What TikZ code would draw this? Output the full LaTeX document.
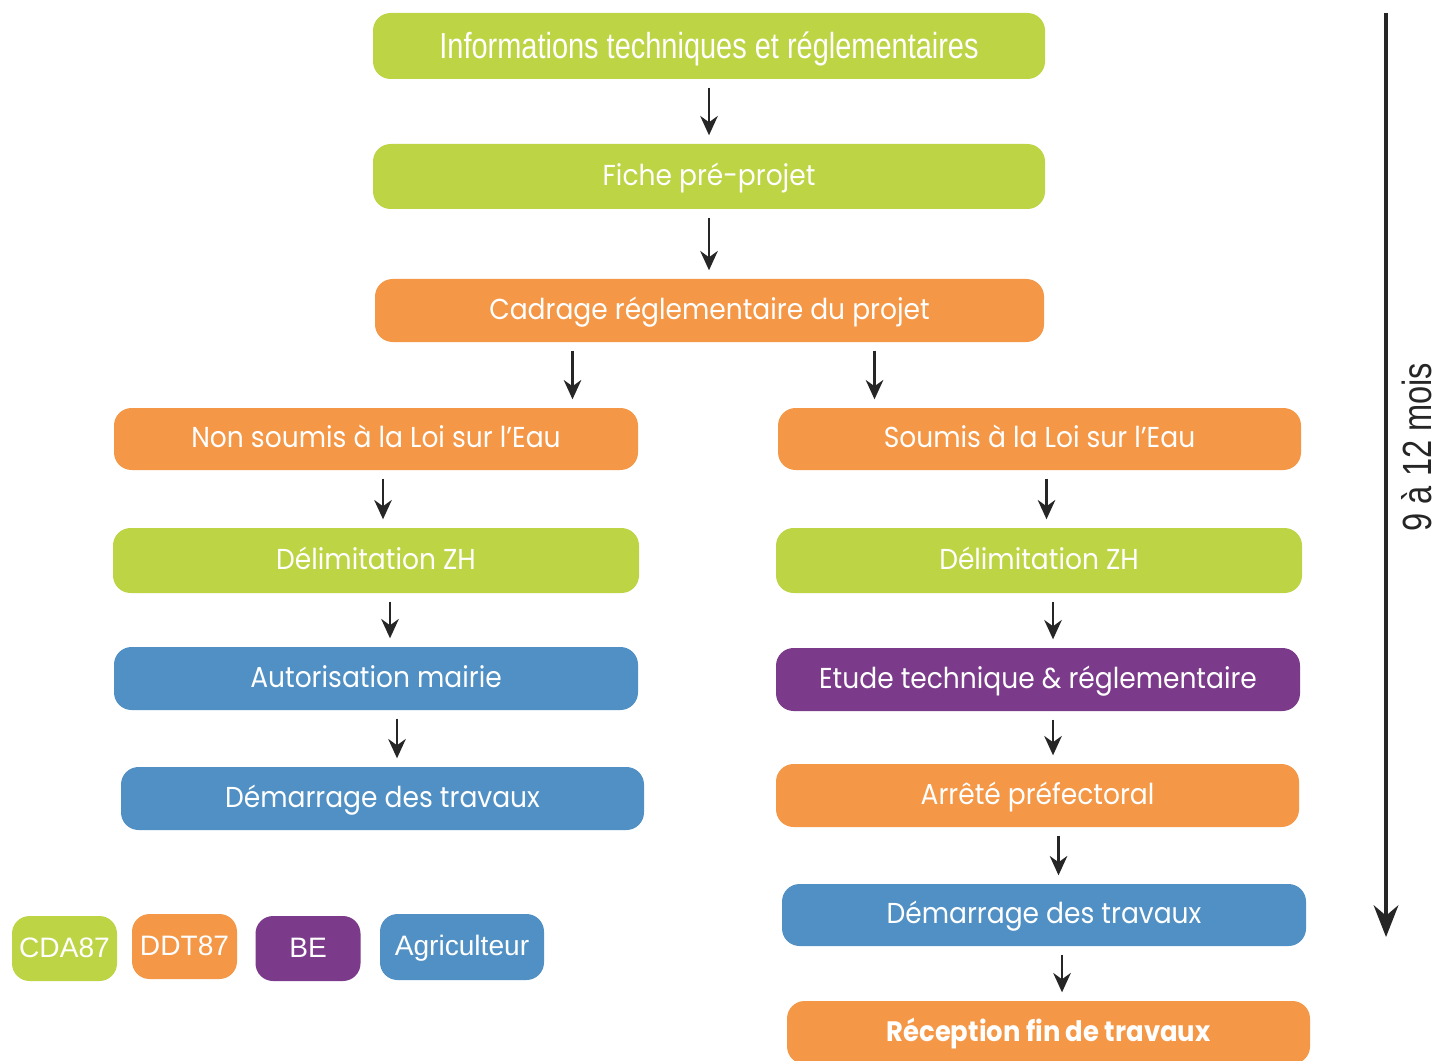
\documentclass[tikz,border=0pt]{standalone}
\usepackage{fontspec}
\setmainfont[FakeStretch=0.92]{Poppins}
\newfontfamily\condfont[FakeStretch=0.8]{Liberation Sans}
\newfontfamily\keyfont{Liberation Sans}
\usetikzlibrary{arrows.meta}

\definecolor{cdagreen}{HTML}{BDD444}
\definecolor{ddtorange}{HTML}{F49848}
\definecolor{bepurple}{HTML}{7B3A8A}
\definecolor{agriblue}{HTML}{5090C4}

\tikzset{
  stage/.style={rounded corners=5pt,text=white,inner sep=0pt,
    text height=0.5em,text depth=0pt,font=\fontsize{8.2}{10}\selectfont},
  keybox/.style={stage,minimum width=1.05cm,minimum height=0.65cm,
    font=\keyfont\fontsize{8}{10}\selectfont},
  flow/.style={-{Stealth[length=5.5pt,width=5pt]},line width=0.7pt,
    black!85,shorten <=0.08cm,shorten >=0.08cm},
}

\begin{document}
\begin{tikzpicture}
\useasboundingbox (0,0) rectangle (14.36,-10.60);
% common trunk
\node[stage,fill=cdagreen,minimum width=6.72cm,minimum height=0.66cm,text height=0.72em,
  font=\condfont\fontsize{10.3}{12}\selectfont] (infos) at (7.090,-0.460) {Informations techniques et réglementaires};
\node[stage,fill=cdagreen,minimum width=6.72cm,minimum height=0.65cm] (fiche) at (7.090,-1.765) {Fiche pré-projet};
\node[stage,fill=ddtorange,minimum width=6.69cm,minimum height=0.63cm] (cadrage) at (7.095,-3.105) {Cadrage réglementaire du projet};
% left branch
\node[stage,fill=ddtorange,minimum width=5.24cm,minimum height=0.62cm] (nonlse) at (3.760,-4.390) {Non soumis à la Loi sur l’Eau};
\node[stage,fill=cdagreen,minimum width=5.26cm,minimum height=0.65cm] (zhleft) at (3.760,-5.605) {Délimitation ZH};
\node[stage,fill=agriblue,minimum width=5.24cm,minimum height=0.63cm] (mairie) at (3.760,-6.785) {Autorisation mairie};
\node[stage,fill=agriblue,minimum width=5.23cm,minimum height=0.63cm] (startleft) at (3.825,-7.985) {Démarrage des travaux};
% right branch
\node[stage,fill=ddtorange,minimum width=5.23cm,minimum height=0.62cm] (lse) at (10.395,-4.390) {Soumis à la Loi sur l’Eau};
\node[stage,fill=cdagreen,minimum width=5.26cm,minimum height=0.65cm] (zhright) at (10.390,-5.605) {Délimitation ZH};
\node[stage,fill=bepurple,minimum width=5.24cm,minimum height=0.63cm] (etude) at (10.380,-6.795) {Etude technique \& réglementaire};
\node[stage,fill=ddtorange,minimum width=5.23cm,minimum height=0.63cm] (arrete) at (10.375,-7.955) {Arrêté préfectoral};
\node[stage,fill=agriblue,minimum width=5.24cm,minimum height=0.62cm] (startright) at (10.440,-9.150) {Démarrage des travaux};
\node[stage,fill=ddtorange,minimum width=5.23cm,minimum height=0.63cm,
  font=\bfseries\fontsize{8}{10}\selectfont] (reception) at (10.485,-10.325) {Réception fin de travaux};
% legend
\node[keybox,fill=cdagreen] (kcda) at (0.645,-9.485) {CDA87};
\node[keybox,fill=ddtorange] (kddt) at (1.845,-9.465) {DDT87};
\node[keybox,fill=bepurple] (kbe) at (3.080,-9.485) {BE};
\node[keybox,fill=agriblue,minimum width=1.64cm,minimum height=0.66cm] (kagri) at (4.620,-9.470) {Agriculteur};

\draw[flow] (infos.south) -- (infos.south |- fiche.north);
\draw[flow] (fiche.south) -- (fiche.south |- cadrage.north);
\draw[flow] ([xshift=-1.37cm]cadrage.south) -- ([xshift=-1.37cm]cadrage.south |- nonlse.north);
\draw[flow] ([xshift=1.65cm]cadrage.south) -- ([xshift=1.65cm]cadrage.south |- lse.north);
\draw[flow] ([xshift=0.07cm]nonlse.south) -- ([xshift=0.07cm]nonlse.south |- zhleft.north);
\draw[flow] ([xshift=0.14cm]zhleft.south) -- ([xshift=0.14cm]zhleft.south |- mairie.north);
\draw[flow] ([xshift=0.21cm]mairie.south) -- ([xshift=0.21cm]mairie.south |- startleft.north);
\draw[flow] ([xshift=0.07cm]lse.south) -- ([xshift=0.07cm]lse.south |- zhright.north);
\draw[flow] ([xshift=0.14cm]zhright.south) -- ([xshift=0.14cm]zhright.south |- etude.north);
\draw[flow] ([xshift=0.15cm]etude.south) -- ([xshift=0.15cm]etude.south |- arrete.north);
\draw[flow] ([xshift=0.21cm]arrete.south) -- ([xshift=0.21cm]arrete.south |- startright.north);
\draw[flow] ([xshift=0.18cm]startright.south) -- ([xshift=0.18cm]startright.south |- reception.north);

% duration
\coordinate (tstart) at (13.860,-0.130);
\coordinate (tend) at (13.860,-9.370);
\draw[-{Stealth[length=9pt,width=7pt]},line width=1.2pt,black!85] (tstart) -- (tend);
\node[rotate=90,inner sep=0pt,font=\condfont\fontsize{11.6}{14}\selectfont,black!85] (duree) at (14.170,-4.470) {9 à 12 mois};
\end{tikzpicture}
\end{document}
